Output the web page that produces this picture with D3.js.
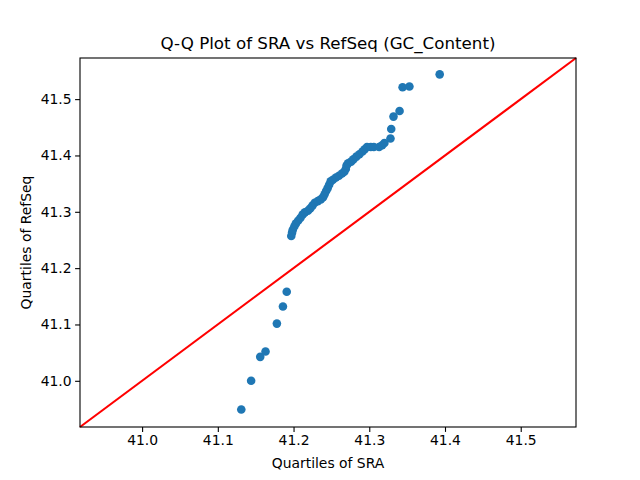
<!DOCTYPE html>
<html>
<head>
<meta charset="utf-8">
<script src="https://cdn.jsdelivr.net/npm/d3@7"></script>
<style>
body{margin:0;background:#fff;}
text{font-family:"DejaVu Sans",sans-serif;}
</style>
</head>
<body>
<svg id="chart"></svg>
<script>
// quantiles
const sra = [41.131,41.144,41.156,41.163,41.178,41.186,41.191,
  41.197,41.198,41.199,41.201,41.203,41.206,41.209,41.212,41.215,41.219,
  41.222,41.225,41.228,41.232,41.236,41.239,41.241,41.243,41.245,41.247,
  41.249,41.252,41.256,41.260,41.264,41.267,41.269,41.270,41.272,41.276,
  41.279,41.283,41.287,41.291,41.294,41.297,41.302,41.306,41.313,41.317,
  41.320,41.328,41.329,41.332,41.340,41.344,41.353,41.393];
const refseq = [40.949,41.000,41.0425,41.052,41.1015,41.132,41.158,
  41.257,41.263,41.268,41.274,41.279,41.284,41.289,41.295,41.299,41.302,
  41.306,41.311,41.316,41.319,41.322,41.326,41.331,41.337,41.342,41.348,
  41.354,41.357,41.361,41.364,41.368,41.371,41.376,41.382,41.386,41.389,
  41.393,41.398,41.402,41.407,41.411,41.415,41.415,41.415,41.415,41.418,
  41.422,41.430,41.447,41.469,41.479,41.521,41.5225,41.544];
const xTicks = [41.0,41.1,41.2,41.3,41.4,41.5];
const yTicks = [41.0,41.1,41.2,41.3,41.4,41.5];
const lims = [40.918,41.573];

const width = 640, height = 480;
const margin = {top:58,right:64,bottom:53,left:80};
const innerW = width-margin.left-margin.right;
const innerH = height-margin.top-margin.bottom;

const svg = d3.select("#chart").attr("width",width).attr("height",height);
const g = svg.append("g").attr("transform",`translate(${margin.left},${margin.top})`);

const x = d3.scaleLinear().domain(lims).range([0,innerW]);
const y = d3.scaleLinear().domain(lims).range([innerH,0]);

const xAxis = g.append("g")
  .attr("transform",`translate(0,${innerH})`)
  .call(d3.axisBottom(x).tickValues(xTicks).tickFormat(d3.format(".1f")).tickSize(4.9).tickPadding(3.5).tickSizeOuter(0));
const yAxis = g.append("g")
  .call(d3.axisLeft(y).tickValues(yTicks).tickFormat(d3.format(".1f")).tickSize(4.9).tickPadding(3.5).tickSizeOuter(0));
[xAxis,yAxis].forEach(a=>{
  a.select(".domain").remove();
  a.selectAll("text").attr("font-family","DejaVu Sans").attr("font-size",13.9).attr("fill","#000");
  a.selectAll("line").attr("stroke","#000").attr("stroke-width",1.1);
});

// 45 degree reference line
g.append("line")
  .attr("x1",x(lims[0])).attr("y1",y(lims[0]))
  .attr("x2",x(lims[1])).attr("y2",y(lims[1]))
  .attr("stroke","red").attr("stroke-width",2.1);

g.selectAll("circle")
  .data(sra.map((d,i)=>({sx:d,ry:refseq[i]})))
  .enter()
  .append("circle")
  .attr("cx",d=>x(d.sx))
  .attr("cy",d=>y(d.ry))
  .attr("r",4.3)
  .attr("fill","#1f77b4");

g.append("rect")
  .attr("width",innerW).attr("height",innerH)
  .attr("fill","none").attr("stroke","#000").attr("stroke-width",1.1);

svg.append("text")
  .attr("x",margin.left+innerW/2).attr("y",49)
  .attr("text-anchor","middle").attr("font-size",16.7)
  .text("Q-Q Plot of SRA vs RefSeq (GC_Content)");
svg.append("text")
  .attr("x",margin.left+innerW/2).attr("y",468)
  .attr("text-anchor","middle").attr("font-size",13.9)
  .text("Quartiles of SRA");
svg.append("text")
  .attr("transform",`translate(31,${margin.top+innerH/2}) rotate(-90)`)
  .attr("text-anchor","middle").attr("font-size",13.9)
  .text("Quartiles of RefSeq");
</script>
</body>
</html>
